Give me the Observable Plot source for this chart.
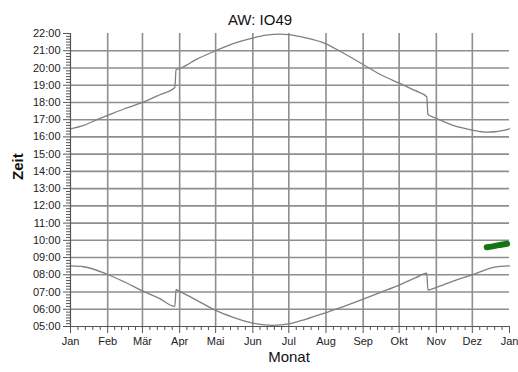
<!DOCTYPE html>
<html><head><meta charset="utf-8">
<script src="https://cdn.jsdelivr.net/npm/d3@7"></script>
<script src="https://cdn.jsdelivr.net/npm/@observablehq/plot@0.6"></script>
<style>body{margin:0;background:#fff;}</style>
</head><body><div id="chart"></div>
<script>
const titleText = "AW: IO49";
const xLabel = "Monat";
const yLabel = "Zeit";
const monthLabels = ["Jan","Feb","Mär","Apr","Mai","Jun","Jul","Aug","Sep","Okt","Nov","Dez","Jan"];
const monthStarts = ["2020-01-01","2020-02-01","2020-03-01","2020-04-01","2020-05-01","2020-06-01","2020-07-01","2020-08-01","2020-09-01","2020-10-01","2020-11-01","2020-12-01","2021-01-01"];
const hourTicks = [5,6,7,8,9,10,11,12,13,14,15,16,17,18,19,20,21,22];

const sunsetDates = ["2020-01-01","2020-01-12","2020-01-23","2020-02-01","2020-02-15","2020-03-01","2020-03-15","2020-03-28","2020-03-29","2020-04-01","2020-04-15","2020-05-01","2020-05-15","2020-06-01","2020-06-12","2020-06-24","2020-07-01","2020-07-15","2020-08-01","2020-08-12","2020-09-01","2020-09-15","2020-10-01","2020-10-15","2020-10-24","2020-10-25","2020-11-01","2020-11-15","2020-12-01","2020-12-13","2020-12-20","2021-01-01"];
const sunsetTimes = ["16:28","16:40","17:00","17:15","17:38","18:00","18:26","18:52","19:54","19:58","20:30","21:00","21:24","21:44","21:54","21:58","21:56","21:45","21:24","21:00","20:12","19:38","19:07","18:40","18:20","17:18","17:05","16:40","16:24","16:17","16:18","16:28"];

const sunriseDates = ["2020-01-01","2020-01-12","2020-02-01","2020-02-15","2020-03-01","2020-03-15","2020-03-28","2020-03-29","2020-04-01","2020-04-15","2020-05-01","2020-05-15","2020-06-01","2020-06-18","2020-07-01","2020-07-15","2020-08-01","2020-08-15","2020-09-01","2020-09-15","2020-10-01","2020-10-15","2020-10-24","2020-10-25","2020-11-01","2020-11-15","2020-12-01","2020-12-20","2021-01-01"];
const sunriseTimes = ["08:31","08:28","08:01","07:35","07:04","06:38","06:10","07:08","07:02","06:32","05:56","05:33","05:12","05:04","05:09","05:25","05:48","06:08","06:35","06:58","07:24","07:50","08:06","07:07","07:16","07:38","08:00","08:27","08:31"];

const qsoDates = ["2020-12-13","2020-12-18","2020-12-24","2020-12-30"];
const qsoTimes = ["09:36","09:39","09:44","09:48"];

const parse = d3.utcParse("%Y-%m-%d");
const toHours = s => { const [h, m] = s.split(":").map(Number); return h + m / 60; };
const build = (dates, times) => dates.map((d, i) => ({date: parse(d), t: toHours(times[i])}));
const sunset = build(sunsetDates, sunsetTimes);
const sunrise = build(sunriseDates, sunriseTimes);
const qso = build(qsoDates, qsoTimes);
const months = monthStarts.map(parse);

const minorX = [];
for (let i = 0; i < 12; i++) {
  const a = +months[i], b = +months[i + 1];
  for (let k = 1; k < 5; k++) minorX.push(new Date(a + (b - a) * k / 5));
}
const minorY = [];
for (let h = 5; h < 22; h++) for (let k = 1; k < 6; k++) minorY.push(h + k / 6);

const grid = "#8e8e8e";
const axisCol = "#555";

const chart = Plot.plot({
  width: 518, height: 372,
  marginTop: 33, marginBottom: 46, marginLeft: 70, marginRight: 9,
  style: {fontFamily: "'Liberation Sans', Arial, sans-serif", fontSize: "11px", color: "#222", background: "#fff"},
  x: {type: "utc", domain: [months[0], months[12]], axis: null},
  y: {domain: [5, 22], axis: null},
  marks: [
    Plot.ruleY(hourTicks.filter(h => h > 5 && h < 22), {stroke: grid, strokeWidth: 1.6}),
    Plot.ruleX(months.slice(1, 12), {stroke: grid, strokeWidth: 1.6}),
    Plot.line(sunset, {x: "date", y: "t", stroke: "#7f7f7f", strokeWidth: 1.3, curve: "monotone-x"}),
    Plot.line(sunrise, {x: "date", y: "t", stroke: "#7f7f7f", strokeWidth: 1.3, curve: "monotone-x"}),
    Plot.line(qso, {x: "date", y: "t", stroke: "#157515", strokeWidth: 6, strokeLinecap: "round"}),
    Plot.ruleY([5], {stroke: axisCol, strokeWidth: 1.2}),
    Plot.ruleX([months[0]], {stroke: axisCol, strokeWidth: 1.2}),
    Plot.axisX({ticks: months, tickFormat: d => monthLabels[months.findIndex(m => +m === +d)], tickSize: 7, tickPadding: 4, label: null, stroke: axisCol}),
    Plot.axisX({ticks: minorX, tickFormat: () => "", tickSize: 4, label: null, stroke: axisCol}),
    Plot.axisY({ticks: hourTicks, tickFormat: h => String(h).padStart(2, "0") + ":00", tickSize: 7, tickPadding: 3, label: null, stroke: axisCol}),
    Plot.axisY({ticks: minorY, tickFormat: () => "", tickSize: 4, label: null, stroke: axisCol}),
    Plot.text([titleText], {frameAnchor: "top", dx: -30, dy: -19, fontSize: 15, fill: "#111"}),
    Plot.text([yLabel], {frameAnchor: "left", dx: -52, rotate: -90, fontSize: 15, fontWeight: "bold", fill: "#111"}),
    Plot.text([xLabel], {frameAnchor: "bottom", dy: 35, dx: -1, fontSize: 15, fill: "#111"})
  ]
});
document.getElementById("chart").appendChild(chart);
</script>
</body></html>
